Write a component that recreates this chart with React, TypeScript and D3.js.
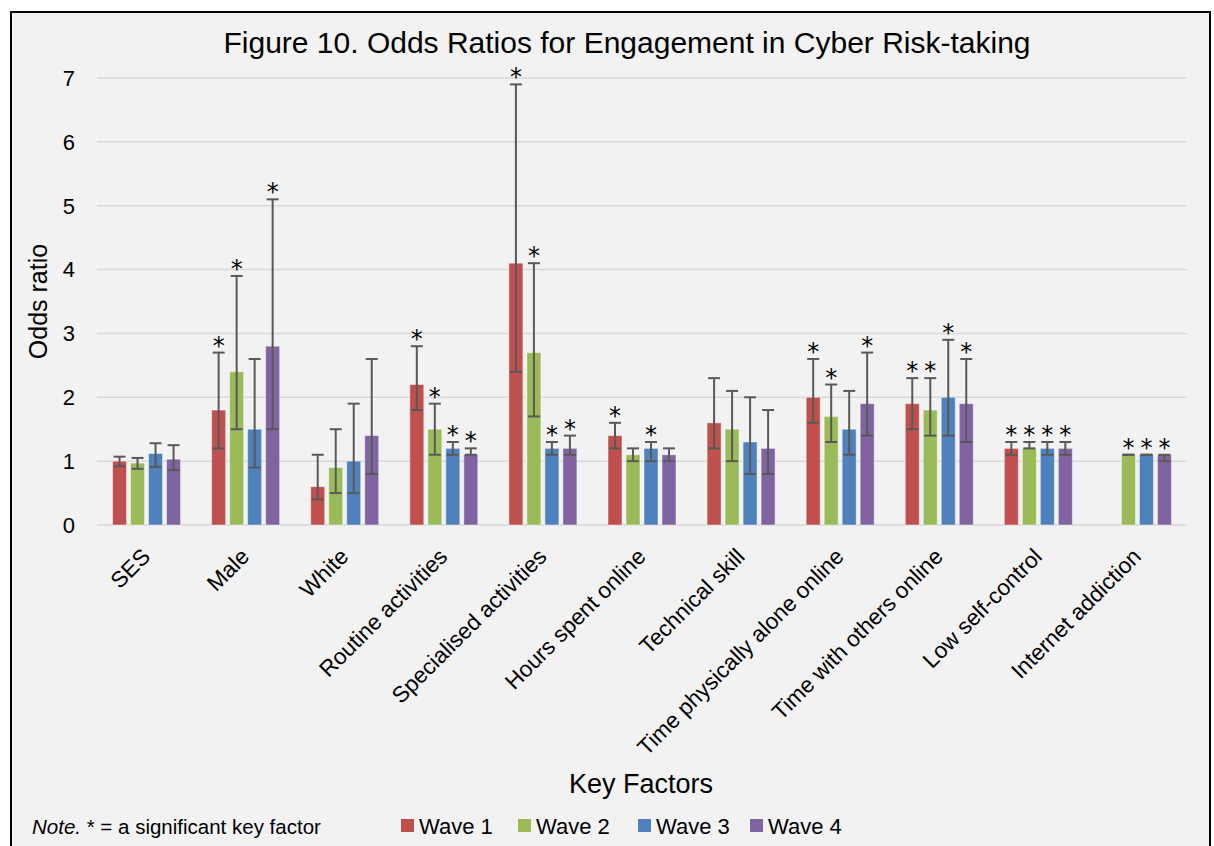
import * as d3 from 'd3';
import { useEffect, useRef } from 'react';

const categories = [
    'SES',
    'Male',
    'White',
    'Routine activities',
    'Specialised activities',
    'Hours spent online',
    'Technical skill',
    'Time physically alone online',
    'Time with others online',
    'Low self-control',
    'Internet addiction',
];
const waves = ['Wave 1', 'Wave 2', 'Wave 3', 'Wave 4'];
const waveColors = ['#C0504D', '#9BBB59', '#4F81BD', '#8064A2'];
const yTicks = [0, 1, 2, 3, 4, 5, 6, 7];

// odds ratios, lower / upper CI, significance (1 = *)
const oddsW1 = [1.0, 1.8, 0.6, 2.2, 4.1, 1.4, 1.6, 2.0, 1.9, 1.2, null];
const lowW1 = [0.92, 1.2, 0.4, 1.8, 2.4, 1.2, 1.2, 1.6, 1.5, 1.1, null];
const highW1 = [1.07, 2.7, 1.1, 2.8, 6.9, 1.6, 2.3, 2.6, 2.3, 1.3, null];
const sigW1 = [0, 1, 0, 1, 1, 1, 0, 1, 1, 1, 0];

const oddsW2 = [0.97, 2.4, 0.9, 1.5, 2.7, 1.1, 1.5, 1.7, 1.8, 1.2, 1.1];
const lowW2 = [0.88, 1.5, 0.5, 1.1, 1.7, 1.0, 1.0, 1.3, 1.4, 1.2, 1.1];
const highW2 = [1.05, 3.9, 1.5, 1.9, 4.1, 1.2, 2.1, 2.2, 2.3, 1.3, 1.1];
const sigW2 = [0, 1, 0, 1, 1, 0, 0, 1, 1, 1, 1];

const oddsW3 = [1.12, 1.5, 1.0, 1.2, 1.2, 1.2, 1.3, 1.5, 2.0, 1.2, 1.1];
const lowW3 = [0.91, 0.9, 0.5, 1.1, 1.1, 1.0, 0.8, 1.1, 1.4, 1.1, 1.1];
const highW3 = [1.28, 2.6, 1.9, 1.3, 1.3, 1.3, 2.0, 2.1, 2.9, 1.3, 1.1];
const sigW3 = [0, 0, 0, 1, 1, 1, 0, 0, 1, 1, 1];

const oddsW4 = [1.03, 2.8, 1.4, 1.1, 1.2, 1.1, 1.2, 1.9, 1.9, 1.2, 1.1];
const lowW4 = [0.86, 1.5, 0.8, 1.1, 1.1, 1.0, 0.8, 1.4, 1.3, 1.1, 1.0];
const highW4 = [1.25, 5.1, 2.6, 1.2, 1.4, 1.2, 1.8, 2.7, 2.6, 1.3, 1.1];
const sigW4 = [0, 1, 0, 1, 1, 0, 0, 1, 1, 1, 1];

const seriesOdds = [oddsW1, oddsW2, oddsW3, oddsW4];
const seriesLow = [lowW1, lowW2, lowW3, lowW4];
const seriesHigh = [highW1, highW2, highW3, highW4];
const seriesSig = [sigW1, sigW2, sigW3, sigW4];

const WIDTH = 1214;
const HEIGHT = 846;
const FONT = "'Liberation Sans', Arial, sans-serif";

type Bar = { cat: number; wave: number; odds: number; low: number; high: number; sig: boolean };

const App = () => {
    const svgRef = useRef<SVGSVGElement | null>(null);

    useEffect(() => {
        if (!svgRef.current) return;
        const svg = d3.select(svgRef.current);
        svg.selectAll('*').remove();

        const plot = { left: 97, right: 1187, top: 78, bottom: 525 };

        svg.append('rect').attr('width', WIDTH).attr('height', HEIGHT).attr('fill', '#ffffff');
        // chart frame
        svg.append('rect')
            .attr('x', 11)
            .attr('y', 12)
            .attr('width', 1199)
            .attr('height', 850)
            .attr('fill', '#F2F2F2')
            .attr('stroke', '#000')
            .attr('stroke-width', 2);

        const x = d3.scaleBand<string>().domain(categories).range([plot.left, plot.right]);
        const xInner = d3.scaleBand<string>().domain(waves).range([-34, 34]).paddingInner(4 / 18);
        const y = d3.scaleLinear().domain([0, 7]).range([plot.bottom, plot.top]);

        // gridlines
        svg.append('g')
            .selectAll('line')
            .data(yTicks)
            .join('line')
            .attr('x1', plot.left)
            .attr('x2', plot.right)
            .attr('y1', (d) => y(d))
            .attr('y2', (d) => y(d))
            .attr('stroke', '#D9D9D9')
            .attr('stroke-width', 1.5);

        // y tick labels
        svg.append('g')
            .selectAll('text')
            .data(yTicks)
            .join('text')
            .attr('x', 75)
            .attr('y', (d) => y(d))
            .attr('dy', '0.36em')
            .attr('text-anchor', 'end')
            .attr('font-family', FONT)
            .attr('font-size', 22)
            .attr('fill', '#000')
            .text((d) => d);

        const bars: Bar[] = [];
        seriesOdds.forEach((arr, w) => {
            arr.forEach((v, c) => {
                if (v == null) return;
                bars.push({
                    cat: c,
                    wave: w,
                    odds: v,
                    low: seriesLow[w][c] as number,
                    high: seriesHigh[w][c] as number,
                    sig: seriesSig[w][c] === 1,
                });
            });
        });

        const bx = (d: Bar) => (x(categories[d.cat]) as number) + x.bandwidth() / 2 + (xInner(waves[d.wave]) as number);
        const bw = xInner.bandwidth();

        svg.append('g')
            .selectAll('rect')
            .data(bars)
            .join('rect')
            .attr('x', bx)
            .attr('y', (d) => y(d.odds))
            .attr('width', bw)
            .attr('height', (d) => y(0) - y(d.odds))
            .attr('fill', (d) => waveColors[d.wave])
            .attr('stroke', 'rgba(255,255,255,0.45)')
            .attr('stroke-width', 1);

        // error bars
        const err = svg.append('g').attr('stroke', '#595959').attr('stroke-width', 2);
        bars.forEach((d) => {
            const cx = bx(d) + bw / 2;
            err.append('line').attr('x1', cx).attr('x2', cx).attr('y1', y(d.low)).attr('y2', y(d.high));
            [d.low, d.high].forEach((v) => {
                err.append('line')
                    .attr('x1', cx - 6)
                    .attr('x2', cx + 6)
                    .attr('y1', y(v))
                    .attr('y2', y(v));
            });
        });

        // significance stars
        svg.append('g')
            .selectAll('text')
            .data(bars.filter((d) => d.sig))
            .join('text')
            .attr('x', (d) => bx(d) + bw / 2)
            .attr('y', (d) => y(d.high) + 1)
            .attr('text-anchor', 'middle')
            .attr('font-family', "'DejaVu Sans', sans-serif")
            .attr('font-size', 24)
            .attr('fill', '#000')
            .text('*');

        // category labels, rotated
        svg.append('g')
            .selectAll('text')
            .data(categories)
            .join('text')
            .attr(
                'transform',
                (d) => `translate(${(x(d) as number) + x.bandwidth() / 2 + 5},${plot.bottom + 33}) rotate(-45)`
            )
            .attr('text-anchor', 'end')
            .attr('font-family', FONT)
            .attr('font-size', 22.5)
            .attr('fill', '#000')
            .text((d) => d);

        // title
        svg.append('text')
            .attr('x', 627)
            .attr('y', 53)
            .attr('text-anchor', 'middle')
            .attr('font-family', FONT)
            .attr('font-size', 30)
            .attr('fill', '#000')
            .text('Figure 10. Odds Ratios for Engagement in Cyber Risk-taking');

        // y axis title
        svg.append('text')
            .attr('transform', `translate(47,${(plot.top + plot.bottom) / 2}) rotate(-90)`)
            .attr('text-anchor', 'middle')
            .attr('font-family', FONT)
            .attr('font-size', 25)
            .attr('fill', '#000')
            .text('Odds ratio');

        // x axis title
        svg.append('text')
            .attr('x', 641)
            .attr('y', 793)
            .attr('text-anchor', 'middle')
            .attr('font-family', FONT)
            .attr('font-size', 27)
            .attr('fill', '#000')
            .text('Key Factors');

        // note
        const note = svg
            .append('text')
            .attr('x', 32)
            .attr('y', 834)
            .attr('font-family', FONT)
            .attr('font-size', 20.5)
            .attr('fill', '#000');
        note.append('tspan').attr('font-style', 'italic').text('Note.');
        note.append('tspan').text(' * = a significant key factor');

        // legend
        const legendX = [401, 518, 638, 750];
        const legend = svg
            .append('g')
            .selectAll('g')
            .data(waves)
            .join('g')
            .attr('transform', (_d, i) => `translate(${legendX[i]},819)`);
        legend
            .append('rect')
            .attr('width', 13)
            .attr('height', 13)
            .attr('fill', (_d, i) => waveColors[i]);
        legend
            .append('text')
            .attr('x', 18)
            .attr('y', 14.5)
            .attr('font-family', FONT)
            .attr('font-size', 22)
            .attr('fill', '#000')
            .text((d) => d);
    }, []);

    return (
        <div style={{ position: 'absolute', left: 0, top: 0 }}>
            <svg ref={svgRef} width={WIDTH} height={HEIGHT} style={{ display: 'block' }}></svg>
        </div>
    );
};

export default App;
